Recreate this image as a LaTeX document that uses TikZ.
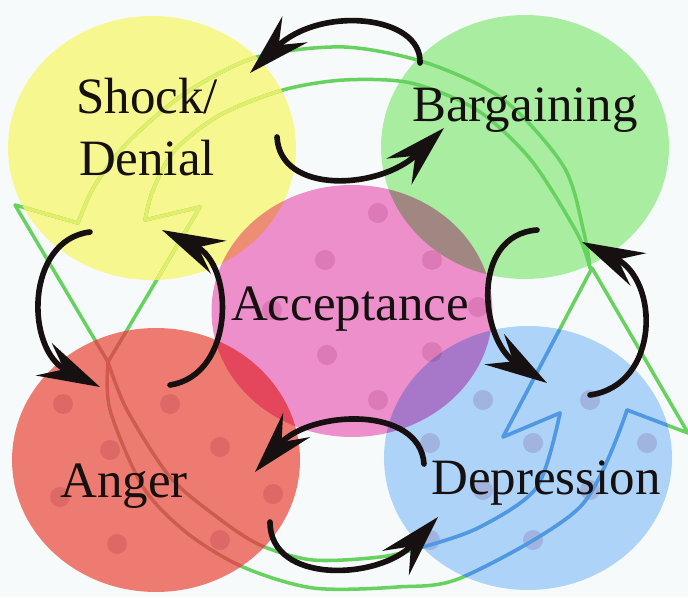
\documentclass[tikz,border=0pt]{standalone}
\usepackage{fontspec}
\setmainfont{Liberation Serif}
\usetikzlibrary{arrows.meta, shapes.geometric}

\definecolor{paper}{RGB}{247,250,250}
\definecolor{shockyellow}{RGB}{254,253,146}
\definecolor{bargreen}{RGB}{174,242,164}
\definecolor{acceptpink}{RGB}{245,146,208}
\definecolor{angerred}{RGB}{246,126,116}
\definecolor{deprblue}{RGB}{180,216,253}
\definecolor{spotc}{RGB}{236,218,230}
\definecolor{ringgreen}{RGB}{104,210,96}
\definecolor{ringyellow}{RGB}{226,238,104}
\definecolor{ringred}{RGB}{214,86,80}
\definecolor{ringblue}{RGB}{80,150,234}
\definecolor{inkc}{RGB}{22,16,16}

% the two big outlined arrows behind the stages
\newcommand{\cycleloops}[1]{%
  \draw[ringline, draw=#1] plot[smooth] coordinates {(590,268) (584,233) (564,167) (504,100) (427,63) (344,47) (257,57) (187,92) (130,140) (95,185) (78,223)};
  \draw[ringline, draw=#1] plot[smooth] coordinates {(590,268) (577,233) (531,160) (477,110) (411,83) (344,80) (283,90) (220,115) (175,150) (153,190) (145,220)};
  \draw[ringline, draw=#1] (78,223) -- (15,205) -- (108,362) -- (200,207) -- (145,220);
  \draw[ringline, draw=#1] plot[smooth] coordinates {(108,362) (110,410) (143,487) (187,533) (243,567) (313,588) (397,587) (463,577) (580,507) (627,410)};
  \draw[ringline, draw=#1] plot[smooth] coordinates {(108,362) (127,410) (170,477) (217,517) (260,545) (313,560) (380,557) (423,547) (480,527) (537,487) (560,413)};
  \draw[ringline, draw=#1] (560,413) -- (503,437) -- (592,268) -- (688,433) -- (627,410);
}
\newcommand{\stageclip}[1]{\clip (#1.center) ellipse [x radius=2.88cm, y radius=2.64cm];}

\begin{document}
\begin{tikzpicture}[x=0.02cm, y=-0.02cm,
    stage/.style={ellipse, inner sep=0, minimum width=5.76cm, minimum height=5.28cm},
    stagetext/.style={font=\fontsize{29}{35}\selectfont, text=inkc, align=center, inner sep=0},
    ringline/.style={line width=2pt, line join=round, line cap=round},
    sketch/.style={-{Stealth[length=1.25cm, width=0.72cm, inset=0.45cm]}, line width=3.2pt, line cap=round, draw=inkc}
  ]
  \useasboundingbox (0,0) rectangle (688,597);
  \fill[paper] (0,0) rectangle (688,597);

  \begin{scope}[blend mode=multiply]
    \node[stage, fill=shockyellow] (shock) at (152,148) {};
    \node[stage, fill=bargreen] (barg) at (525,147) {};
    \node[stage, fill=angerred] (anger) at (156,460) {};
    \node[stage, fill=deprblue] (depr) at (528,458) {};
    \node[stage, fill=acceptpink, minimum width=5.62cm, minimum height=5.04cm] (accept) at (352,311) {};
    \foreach \p in {(378,213),(325,260),(432,260),(272,310),(478,307),(327,355),(432,352),(378,400),
                    (63,404),(170,404),(110,450),(220,447),(60,497),(273,494),(117,544),(220,540),
                    (483,400),(430,443),(533,443),(647,443),(590,400),(483,490),(590,490),(430,540),(533,540)}
      \fill[spotc] \p circle (10);
  \end{scope}

  \cycleloops{ringgreen}
  \begin{scope} \stageclip{shock} \cycleloops{ringyellow} \end{scope}
  \begin{scope} \stageclip{anger} \cycleloops{ringred} \end{scope}
  \begin{scope} \stageclip{depr} \cycleloops{ringblue} \end{scope}

  \node[stagetext] (shocktxt) at (147,127) {Shock/\\Denial};
  \node[stagetext, anchor=base] (bargtxt) at (525,122) {Bargaining};
  \node[stagetext, anchor=base] (accepttxt) at (350,320) {Acceptance};
  \node[stagetext, anchor=base] (angertxt) at (124,497) {Anger};
  \node[stagetext, anchor=base] (deprtxt) at (546,494) {Depression};

  \coordinate (bs1) at (420,63);  \coordinate (bs2) at (250,73);
  \coordinate (sb1) at (277,137); \coordinate (sb2) at (444,128);
  \coordinate (bd1) at (537,230); \coordinate (bd2) at (547,383);
  \coordinate (db1) at (590,395); \coordinate (db2) at (582,242);
  \coordinate (da1) at (424,464); \coordinate (da2) at (255,472);
  \coordinate (ad1) at (270,522); \coordinate (ad2) at (438,517);
  \coordinate (as1) at (170,385); \coordinate (as2) at (162,230);
  \coordinate (sa1) at (90,232);  \coordinate (sa2) at (100,387);

  \draw[sketch] (bs1) .. controls (422,15) and (320,5) .. (bs2);
  \draw[sketch] (sb1) .. controls (280,195) and (380,190) .. (sb2);
  \draw[sketch] (bd1) .. controls (470,235) and (480,340) .. (bd2);
  \draw[sketch] (db1) .. controls (660,385) and (660,280) .. (db2);
  \draw[sketch] (da1) .. controls (420,405) and (310,410) .. (da2);
  \draw[sketch] (ad1) .. controls (270,585) and (380,580) .. (ad2);
  \draw[sketch] (as1) .. controls (235,375) and (235,265) .. (as2);
  \draw[sketch] (sa1) .. controls (25,240) and (25,350) .. (sa2);
\end{tikzpicture}
\end{document}
